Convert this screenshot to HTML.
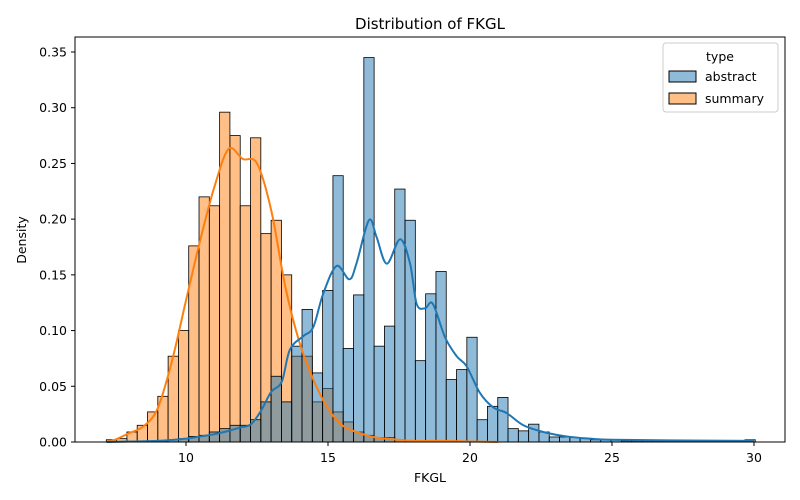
<!DOCTYPE html>
<html><head><meta charset="utf-8"><style>
body{margin:0;background:#fff;}
svg{display:block;font-family:"DejaVu Sans","Liberation Sans",sans-serif;}
</style></head><body>
<svg id="chart" width="800" height="500" viewBox="0 0 800 500">
<rect x="0" y="0" width="800" height="500" fill="#fff"/>
<text x="430" y="29" text-anchor="middle" font-size="15" fill="#000">Distribution of FKGL</text>
<g id="bars-summary"></g>
<g id="bars-abstract"></g>
<g id="kde"></g>
<rect x="75" y="37" width="710" height="405" fill="none" stroke="#000" stroke-width="1"/>
<g id="xticks"></g>
<g id="yticks"></g>
<text x="430" y="482" text-anchor="middle" font-size="12.5">FKGL</text>
<text transform="translate(26,240) rotate(-90)" text-anchor="middle" font-size="12.5">Density</text>
<g>
<rect x="663" y="43" width="115" height="69" rx="3" fill="#fff" fill-opacity="0.8" stroke="#ccc"/>
<text x="720" y="61" text-anchor="middle" font-size="12.5">type</text>
<g>
<rect x="669" y="71" width="27" height="11" fill="rgba(31,119,180,0.5)" stroke="#000"/>
<text x="705" y="81" font-size="12.5">abstract</text></g>
<g>
<rect x="669" y="93" width="27" height="11" fill="rgba(255,127,14,0.5)" stroke="#000"/>
<text x="705" y="103" font-size="12.5">summary</text></g>
</g>
</svg>
<script>
const binStart = 7.194;
const binWidth = 0.3627;
const summaryDensity = [0.002,0.003,0.009,0.015,0.027,0.041,0.077,0.1,0.176,0.22,0.212,0.296,0.275,0.212,0.273,0.187,0.199,0.15,0.077,0.077,0.036,0.048,0.027,0.018,0.009,0.006,0.004,0.004,0.002,0.001,0.001,0.001,0.001,0,0,0,0,0,0,0,0,0,0,0,0,0,0,0,0,0,0,0,0,0,0,0,0,0,0,0,0,0,0];
const abstractDensity = [0,0,0,0,0.001,0.001,0.002,0.003,0.005,0.006,0.009,0.012,0.015,0.015,0.02,0.036,0.059,0.036,0.086,0.119,0.062,0.136,0.239,0.084,0.132,0.345,0.086,0.104,0.227,0.199,0.073,0.133,0.153,0.056,0.065,0.094,0.02,0.032,0.04,0.012,0.01,0.016,0.009,0.0045,0.0045,0.004,0.003,0.002,0.002,0.002,0.001,0.001,0.001,0.001,0.001,0.001,0.001,0.001,0.001,0.001,0.001,0.001,0.002];
const summaryKdeX = [7.2,7.5,8,8.5,9,9.5,10,10.5,11,11.5,12,12.5,13,13.5,14,14.5,15,15.5,16,16.5,17,17.5,18,19,20,21];
const summaryKdeY = [0,0.002,0.008,0.014,0.03,0.072,0.127,0.181,0.229,0.263,0.254,0.25,0.208,0.139,0.089,0.055,0.03,0.015,0.009,0.005,0.003,0.002,0.001,0.001,0.0005,0];
const abstractKdeX = [7.2,8,9,10,10.5,11,11.5,11.91,12.29,12.64,13,13.37,13.66,14.13,14.48,14.83,15.3,15.75,16,16.44,16.71,17.07,17.54,17.89,18.12,18.42,18.69,19.12,19.53,19.88,20.35,20.82,21.29,21.88,22.58,23.4,24.23,25,27,30];
const abstractKdeY = [0,0.0005,0.001,0.003,0.005,0.007,0.01,0.013,0.016,0.028,0.045,0.054,0.083,0.095,0.103,0.133,0.158,0.146,0.16,0.199,0.184,0.16,0.182,0.16,0.124,0.12,0.124,0.094,0.077,0.068,0.044,0.031,0.026,0.015,0.009,0.005,0.003,0.002,0.0015,0.001];
const xTickValues = [10,15,20,25,30];
const yTickValues = [0,0.05,0.1,0.15,0.2,0.25,0.3,0.35];
const yTickLabels = ["0.00","0.05","0.10","0.15","0.20","0.25","0.30","0.35"];

const NS = "http://www.w3.org/2000/svg";
function xs(v){return 186 + (v-10)*28.4;}
function ys(v){return 442 - v/0.35*390;}
function mk(tag, attrs, parent){const e=document.createElementNS(NS,tag);for(const k in attrs)e.setAttribute(k,attrs[k]);parent.appendChild(e);return e;}

function drawBars(arr, gid, fill, name){
  const g=document.getElementById(gid);
  arr.forEach((v,i)=>{
    if(v<=0) return;
    const x0=xs(binStart+i*binWidth), x1=xs(binStart+(i+1)*binWidth);
    const r=mk('rect',{x:x0,y:ys(v),width:x1-x0,height:ys(0)-ys(v),fill:fill,stroke:'#000','stroke-width':0.8},g);
    
    
  });
}
drawBars(summaryDensity,'bars-summary','rgba(255,127,14,0.5)','summary');
drawBars(abstractDensity,'bars-abstract','rgba(31,119,180,0.5)','abstract');

function smoothPath(xsArr, ysArr){
  const p=xsArr.map((x,i)=>[xs(x),ys(ysArr[i])]);
  let d='M'+p[0][0]+','+p[0][1];
  for(let i=0;i<p.length-1;i++){
    const p0=p[Math.max(0,i-1)],p1=p[i],p2=p[i+1],p3=p[Math.min(p.length-1,i+2)];
    const c1=[p1[0]+(p2[0]-p0[0])/6,p1[1]+(p2[1]-p0[1])/6];
    const c2=[p2[0]-(p3[0]-p1[0])/6,p2[1]-(p3[1]-p1[1])/6];
    d+=' C'+c1+' '+c2+' '+p2;
  }
  return d;
}
const kg=document.getElementById('kde');
const k1=mk('path',{d:smoothPath(summaryKdeX,summaryKdeY),fill:'none',stroke:'#ff7f0e','stroke-width':2},kg);


const k2=mk('path',{d:smoothPath(abstractKdeX,abstractKdeY),fill:'none',stroke:'#1f77b4','stroke-width':2},kg);



const xg=document.getElementById('xticks');
xTickValues.forEach(v=>{
  const l=mk('line',{x1:xs(v),x2:xs(v),y1:442,y2:446,stroke:'#000'},xg);
  
  
  const t=mk('text',{x:xs(v),y:462,'text-anchor':'middle','font-size':12.5},xg);
  t.textContent=v;
  
  
});
const yg=document.getElementById('yticks');
yTickValues.forEach((v,i)=>{
  const l=mk('line',{x1:71,x2:75,y1:ys(v),y2:ys(v),stroke:'#000'},yg);
  
  
  const t=mk('text',{x:67,y:ys(v)+4.5,'text-anchor':'end','font-size':12.5},yg);
  t.textContent=yTickLabels[i];
  
  
});
</script>
</body></html>
